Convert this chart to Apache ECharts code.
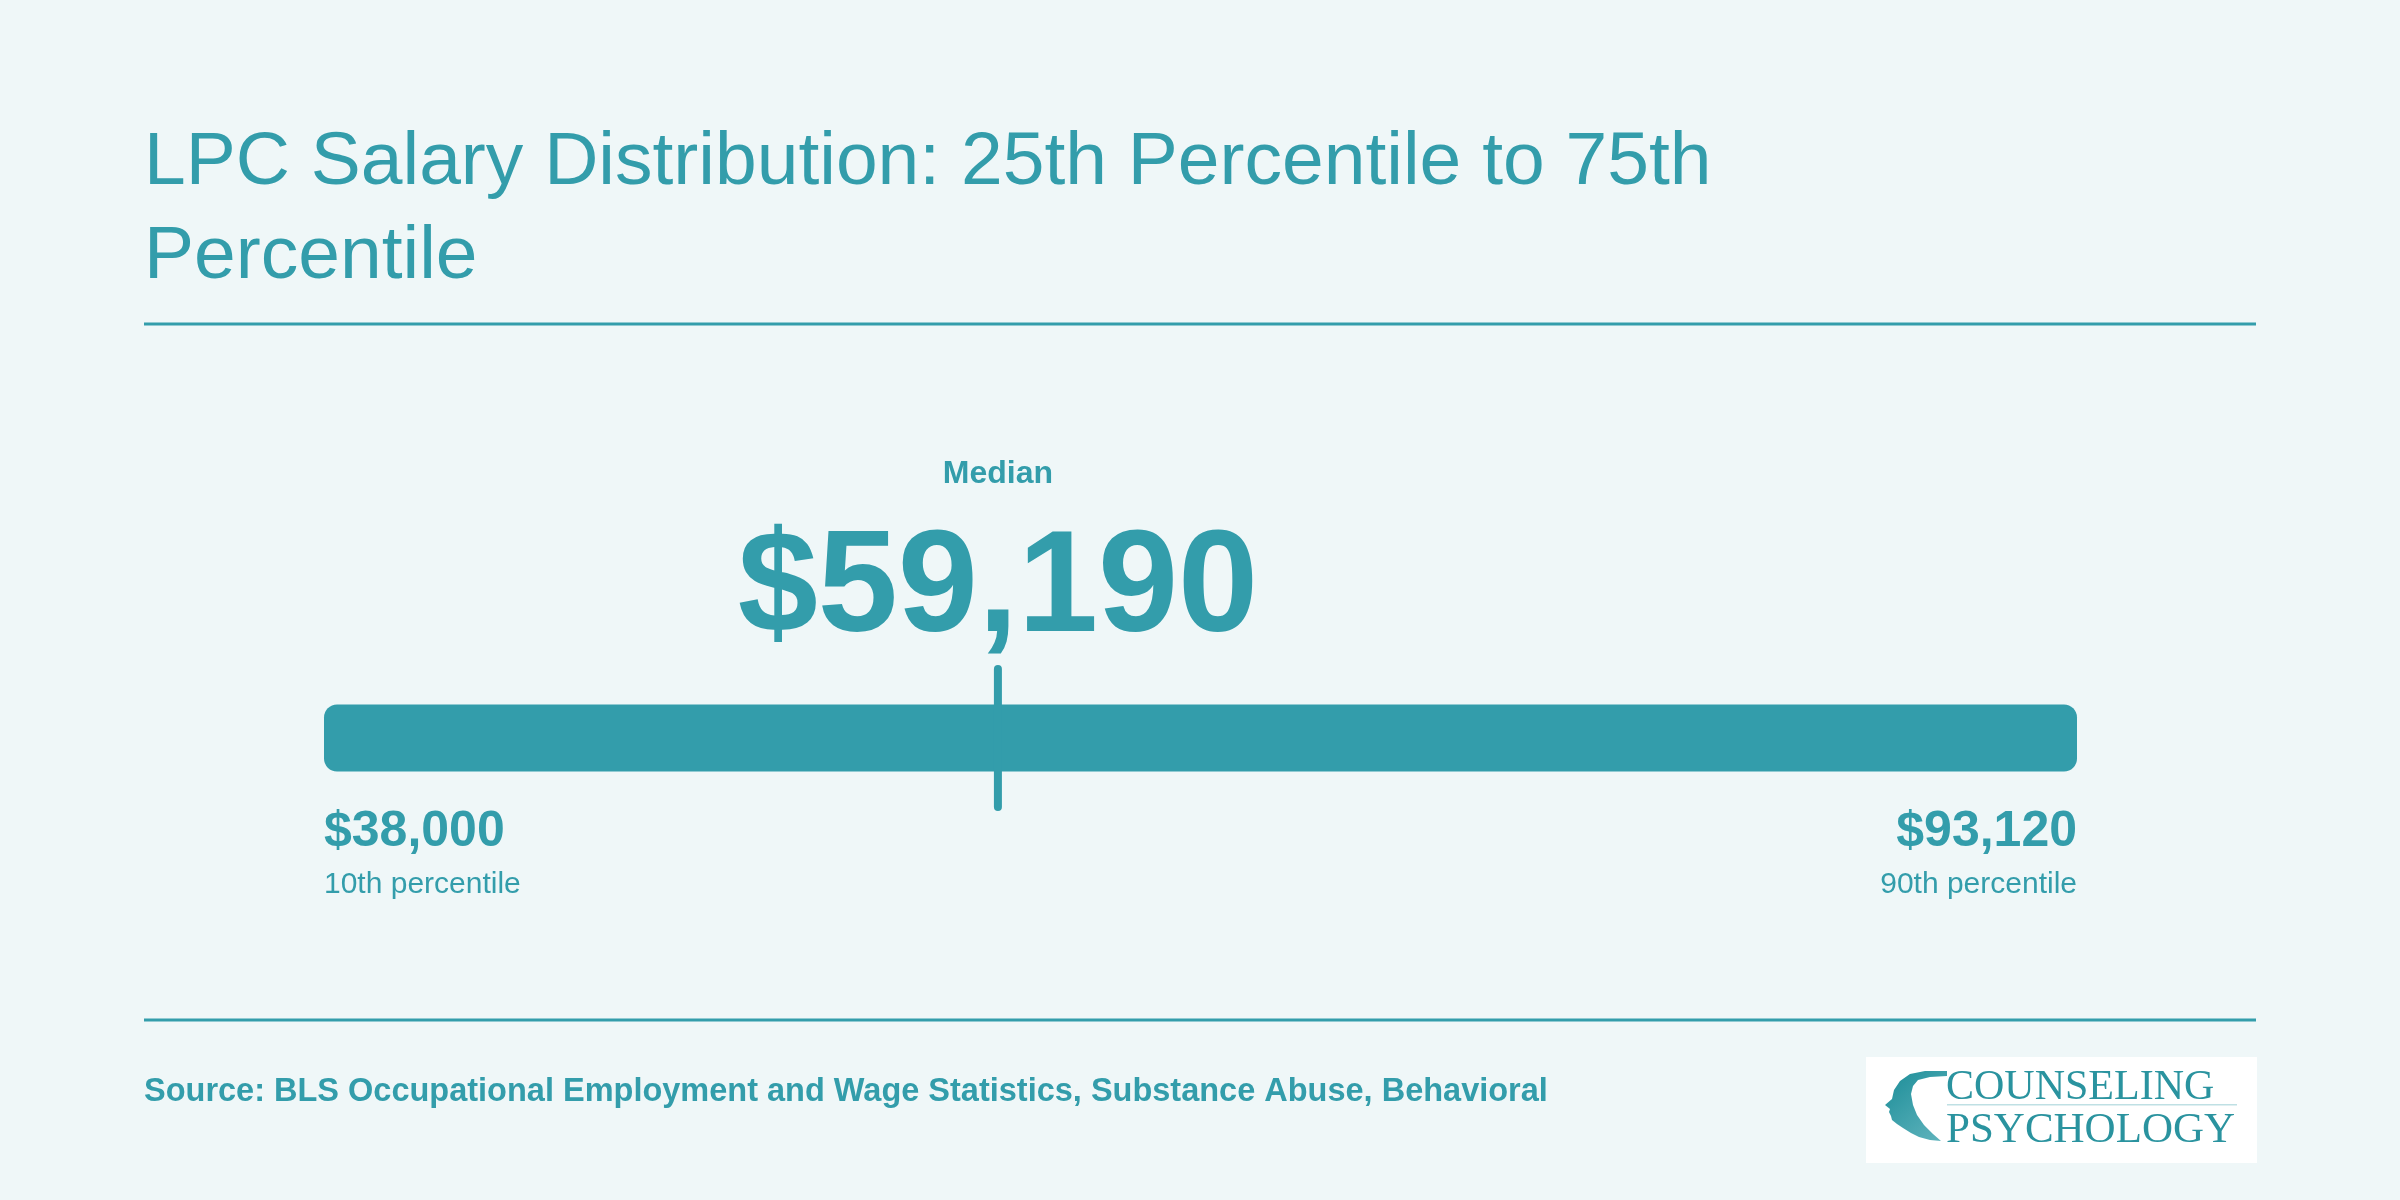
<!DOCTYPE html>
<html>
<head>
<meta charset="utf-8">
<title>LPC Salary Distribution</title>
<script src="https://cdn.jsdelivr.net/npm/echarts@6/dist/echarts.min.js"></script>
<style>
    html, body { margin: 0; padding: 0; background: #eff7f8; }
    #chart { width: 2400px; height: 1200px; }
</style>
</head>
<body>
<div id="chart"></div>
<script>
// chart data
var titleLines = ['LPC Salary Distribution: 25th Percentile to 75th', 'Percentile'];
var percentileNames = ['10th percentile', 'Median', '90th percentile'];
var salaryValues = [38000, 59190, 93120];
var salaryLabels = ['$38,000', '$59,190', '$93,120'];
var sourceText = 'Source: BLS Occupational Employment and Wage Statistics, Substance Abuse, Behavioral';
var logoWords = ['COUNSELING', 'PSYCHOLOGY'];

var main = function () {
    var teal = '#339dab';
    var sans = '"Liberation Sans", Arial, Helvetica, sans-serif';
    var serif = '"Liberation Serif", "Times New Roman", serif';

    var into = function () {
        var myChart = echarts.init(document.getElementById('chart'));
        myChart.setOption(buildOption());
    };

    var txt = function (text, x, y, font, align, color) {
        return {
            type: 'text',
            x: x,
            y: y,
            style: {
                text: text,
                font: font,
                fill: color || teal,
                align: align || 'left',
                textAlign: align || 'left',
                verticalAlign: 'middle',
                textVerticalAlign: 'middle'
            }
        };
    };

    // range bar + end labels
    var renderRange = function (params, api) {
        var left = api.coord([api.value(0), 0]);
        var right = api.coord([api.value(1), 0]);
        var h = 67;
        return {
            type: 'group',
            children: [
                {
                    type: 'rect',
                    shape: { x: left[0], y: left[1] - h / 2, width: right[0] - left[0], height: h, r: 13 },
                    style: { fill: teal }
                },
                txt(salaryLabels[0], left[0], 832, 'bold 50px ' + sans, 'left'),
                txt(percentileNames[0], left[0], 885, '30px ' + sans, 'left'),
                txt(salaryLabels[2], right[0], 832, 'bold 50px ' + sans, 'right'),
                txt(percentileNames[2], right[0], 885, '30px ' + sans, 'right')
            ]
        };
    };

    // median marker + labels
    var renderMedian = function (params, api) {
        var p = api.coord([api.value(0), 0]);
        return {
            type: 'group',
            children: [
                {
                    type: 'line',
                    shape: { x1: p[0], y1: p[1] - 69, x2: p[0], y2: p[1] + 69 },
                    style: { stroke: teal, lineWidth: 8, lineCap: 'round' }
                },
                txt(percentileNames[1], p[0], 474, 'bold 32px ' + sans, 'center'),
                txt(salaryLabels[1], p[0], 591, 'bold 144px ' + sans, 'center')
            ]
        };
    };

    var buildOption = function () {
        return {
            backgroundColor: '#eff7f8',
            animation: false,
            grid: { left: 324, right: 323, top: 669, bottom: 393 },
            xAxis: {
                type: 'value',
                min: salaryValues[0],
                max: salaryValues[2],
                show: false
            },
            yAxis: {
                type: 'category',
                data: ['LPC'],
                show: false
            },
            series: [
                {
                    type: 'custom',
                    renderItem: renderRange,
                    encode: { x: [0, 1], y: 2 },
                    data: [[salaryValues[0], salaryValues[2], 'LPC']],
                    z: 2
                },
                {
                    type: 'custom',
                    renderItem: renderMedian,
                    encode: { x: 0, y: 1 },
                    data: [[salaryValues[1], 'LPC']],
                    z: 3
                }
            ],
            graphic: [
                txt(titleLines[0], 144, 163, '75px ' + sans, 'left'),
                txt(titleLines[1], 144, 257, '75px ' + sans, 'left'),
                { type: 'rect', shape: { x: 144, y: 322.5, width: 2112, height: 3 }, style: { fill: teal } },
                { type: 'rect', shape: { x: 144, y: 1018.5, width: 2112, height: 3 }, style: { fill: teal } },
                txt(sourceText, 144, 1092.5, 'bold 32.5px ' + sans, 'left'),
                // logo
                { type: 'rect', shape: { x: 1866, y: 1057, width: 391, height: 106 }, style: { fill: '#ffffff' } },
                {
                    type: 'polygon',
                    shape: {
                        points: [
                            [1947, 1071], [1925, 1071], [1910, 1074], [1900, 1081], [1894, 1090],
                            [1892, 1099], [1885, 1105], [1890, 1109], [1889, 1112], [1891, 1116],
                            [1892, 1120], [1897, 1124], [1903, 1128], [1911, 1133], [1919, 1137],
                            [1930, 1140], [1941, 1141], [1933, 1134], [1924, 1125], [1917, 1115],
                            [1913, 1105], [1911, 1094], [1913, 1086], [1918, 1080], [1930, 1077],
                            [1947, 1076]
                        ]
                    },
                    style: {
                        fill: new echarts.graphic.LinearGradient(0, 0, 1, 1, [
                            { offset: 0, color: '#1c8d98' },
                            { offset: 1, color: '#62b5be' }
                        ])
                    }
                },
                txt(logoWords[0], 1946, 1088, '42px ' + serif, 'left', '#2a939f'),
                { type: 'rect', shape: { x: 1947, y: 1104, width: 290, height: 1.5 }, style: { fill: '#bfe0e4' } },
                txt(logoWords[1], 1946, 1131, '43px ' + serif, 'left', '#2a939f')
            ]
        };
    };

    return {
        into: into
    };
}();

main.into();
</script>
</body>
</html>
